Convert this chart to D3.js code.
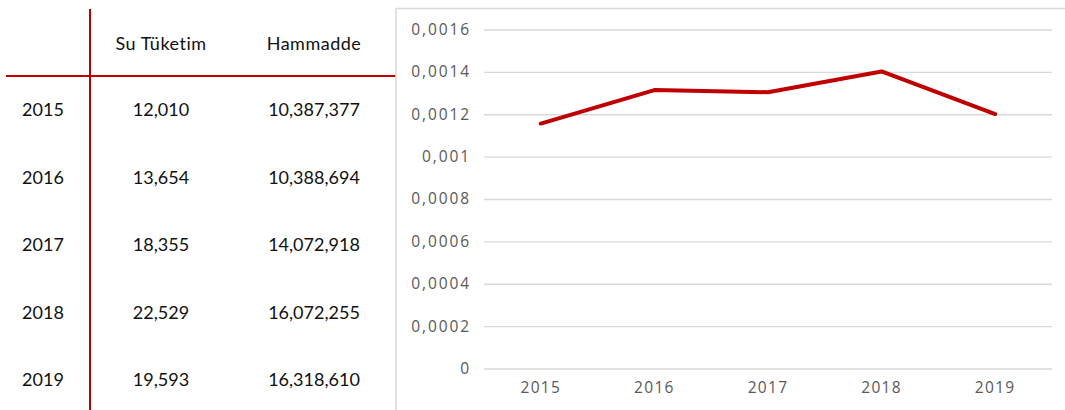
<!DOCTYPE html>
<html>
<head>
<meta charset="utf-8">
<script src="https://cdn.jsdelivr.net/npm/d3@7"></script>
<style>
  body { margin: 0; background: #fff; }
  svg { display: block; }
  .axis text { font-family: "Open Sans", sans-serif; font-size: 15.5px; letter-spacing: 1.3px; fill: #595959; }
  .axis.y text { letter-spacing: 1.9px; }
</style>
</head>
<body>
<div id="canvas"></div>
<script>
// table data
const years = ["2015", "2016", "2017", "2018", "2019"];
const suTuketim = ["12,010", "13,654", "18,355", "22,529", "19,593"];
const hammadde = ["10,387,377", "10,388,694", "14,072,918", "16,072,255", "16,318,610"];
const headers = ["Su Tüketim", "Hammadde"];
// line values
const ratio = [0.001156, 0.001314, 0.001304, 0.001402, 0.001201];
const yTicks = [0, 0.0002, 0.0004, 0.0006, 0.0008, 0.001, 0.0012, 0.0014, 0.0016];
const yTickLabels = ["0", "0,0002", "0,0004", "0,0006", "0,0008", "0,001", "0,0012", "0,0014", "0,0016"];

const width = 1065, height = 410;
const red = "#c00000";
const tableFont = "Lato, 'Open Sans', sans-serif";

const svg = d3.select("#canvas").append("svg")
    .attr("width", width)
    .attr("height", height);

// ---- table ----
const t = svg.append("g");
t.append("line").attr("x1", 90).attr("x2", 90).attr("y1", 9).attr("y2", height)
    .attr("stroke", red).attr("stroke-width", 2);
t.append("line").attr("x1", 6).attr("x2", 396).attr("y1", 76).attr("y2", 76)
    .attr("stroke", red).attr("stroke-width", 2);

const colX = [43, 161, 314];
const rowY = d3.scalePoint().domain(years).range([110, 380]);

t.selectAll(".hdr").data(headers).enter().append("text")
    .attr("x", (d, i) => colX[i + 1])
    .attr("y", 44)
    .attr("dy", "0.35em")
    .attr("text-anchor", "middle")
    .style("font-family", tableFont)
    .style("font-size", "18px")
    .style("letter-spacing", "0.5px")
    .style("fill", "#111")
    .text(d => d);

const rows = t.selectAll(".row").data(years).enter().append("g")
    .attr("transform", d => `translate(0,${rowY(d)})`);
rows.each(function(d, i) {
  const cells = [d, suTuketim[i], hammadde[i]];
  d3.select(this).selectAll("text").data(cells).enter().append("text")
      .attr("x", (c, j) => colX[j])
      .attr("dy", "0.35em")
      .attr("text-anchor", "middle")
      .style("font-family", tableFont)
      .style("font-size", "18px")
      .style("fill", "#111")
      .text(c => c);
});

// ---- chart ----
svg.append("rect")
    .attr("x", 396).attr("y", 8.5)
    .attr("width", 700).attr("height", 450)
    .attr("fill", "none")
    .attr("stroke", "#d9d9d9")
    .attr("stroke-width", 1.5);

const x = d3.scaleBand().domain(years).range([484, 1052]);
const y = d3.scaleLinear().domain([0, 0.0016]).range([368.5, 29.5]);

const g = svg.append("g");

g.append("g")
    .attr("class", "axis y")
    .attr("transform", "translate(484,0)")
    .call(d3.axisLeft(y).tickValues(yTicks).tickSize(-(1052 - 484)).tickFormat((d, i) => yTickLabels[i]))
    .call(a => a.select(".domain").remove())
    .call(a => a.selectAll(".tick line").attr("stroke", "#d9d9d9").attr("stroke-width", 1.3))
    .call(a => a.selectAll(".tick text").attr("x", -13));

g.append("g")
    .attr("class", "axis x")
    .attr("transform", "translate(0,368.5)")
    .call(d3.axisBottom(x).tickSize(0).tickPadding(13))
    .call(a => a.select(".domain").remove());

const line = d3.line()
    .x((d, i) => x(years[i]) + x.bandwidth() / 2)
    .y(d => y(d));

g.append("path")
    .datum(ratio)
    .attr("d", line)
    .attr("fill", "none")
    .attr("stroke", red)
    .attr("stroke-width", 4)
    .attr("stroke-linecap", "round")
    .attr("stroke-linejoin", "round");
</script>
</body>
</html>
